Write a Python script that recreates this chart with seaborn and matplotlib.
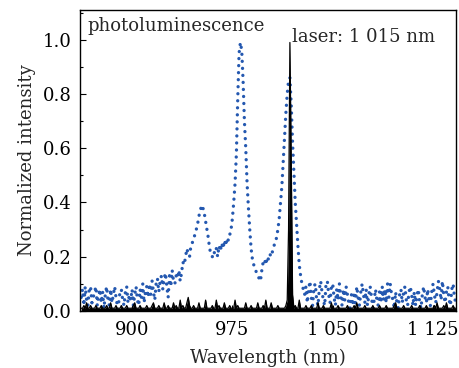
import numpy as np
import pandas as pd
import matplotlib
matplotlib.use('Agg')
import matplotlib.pyplot as plt
import seaborn as sns
from matplotlib.ticker import FixedLocator, MultipleLocator

# --- data (1 nm steps starting at 862 nm) ---
START_NM = 862

pl_intensity = [
    0.05, 0.08, 0.02, 0.09, 0.04, 0.02, 0.08, 0.09, 0.03, 0.05,
    0.07, 0.09, 0.02, 0.06, 0.08, 0.03, 0.07, 0.01, 0.06, 0.09,
    0.04, 0.02, 0.08, 0.03, 0.06, 0.09, 0.05, 0.02, 0.03, 0.07,
    0.08, 0.04, 0.02, 0.07, 0.09, 0.03, 0.06, 0.04, 0.08, 0.02,
    0.06, 0.09, 0.04, 0.02, 0.08, 0.05, 0.10, 0.03, 0.07, 0.09,
    0.05, 0.10, 0.06, 0.11, 0.07, 0.04, 0.10, 0.12, 0.07, 0.11,
    0.13, 0.08, 0.12, 0.14, 0.09, 0.05, 0.13, 0.09, 0.15, 0.11,
    0.10, 0.13, 0.12, 0.15, 0.11, 0.14, 0.18, 0.17, 0.20, 0.23,
    0.21, 0.20, 0.24, 0.25, 0.27, 0.28, 0.30, 0.32, 0.35, 0.37,
    0.39, 0.38, 0.36, 0.33, 0.30, 0.27, 0.23, 0.21, 0.20, 0.22,
    0.21, 0.23, 0.20, 0.24, 0.22, 0.25, 0.23, 0.26, 0.24, 0.27,
    0.26, 0.28, 0.30, 0.34, 0.40, 0.47, 0.58, 0.78, 0.95, 0.99,
    0.96, 0.85, 0.70, 0.60, 0.47, 0.38, 0.30, 0.23, 0.19, 0.17,
    0.16, 0.14, 0.13, 0.12, 0.11, 0.15, 0.18, 0.19, 0.17, 0.20,
    0.19, 0.21, 0.20, 0.22, 0.24, 0.25, 0.27, 0.30, 0.34, 0.40,
    0.46, 0.55, 0.64, 0.73, 0.80, 0.85, 0.86, 0.76, 0.62, 0.51,
    0.40, 0.32, 0.24, 0.17, 0.13, 0.10, 0.08, 0.06, 0.09, 0.03,
    0.08, 0.11, 0.05, 0.02, 0.09, 0.10, 0.04, 0.02, 0.08, 0.11,
    0.07, 0.04, 0.02, 0.10, 0.11, 0.06, 0.03, 0.09, 0.10, 0.05,
    0.02, 0.08, 0.04, 0.10, 0.05, 0.02, 0.08, 0.04, 0.09, 0.06,
    0.03, 0.01, 0.06, 0.02, 0.07, 0.03, 0.09, 0.05, 0.02, 0.07,
    0.10, 0.06, 0.03, 0.08, 0.02, 0.06, 0.09, 0.05, 0.01, 0.04,
    0.08, 0.04, 0.02, 0.07, 0.03, 0.09, 0.04, 0.08, 0.03, 0.10,
    0.05, 0.10, 0.06, 0.04, 0.01, 0.07, 0.03, 0.01, 0.06, 0.08,
    0.03, 0.07, 0.09, 0.04, 0.02, 0.07, 0.09, 0.06, 0.02, 0.07,
    0.02, 0.06, 0.08, 0.03, 0.01, 0.06, 0.09, 0.05, 0.03, 0.08,
    0.04, 0.02, 0.07, 0.10, 0.06, 0.03, 0.07, 0.11, 0.08, 0.04,
    0.11, 0.06, 0.03, 0.07, 0.09, 0.04, 0.02, 0.08, 0.10, 0.05,
    0.03,
]

laser_intensity = [
    0.01, 0.01, 0.02, 0.01, 0.03, 0.01, 0.01, 0.02, 0.01, 0.01,
    0.01, 0.02, 0.01, 0.01, 0.01, 0.02, 0.01, 0.01, 0.01, 0.02,
    0.01, 0.01, 0.03, 0.01, 0.01, 0.01, 0.02, 0.01, 0.01, 0.01,
    0.02, 0.01, 0.01, 0.01, 0.02, 0.01, 0.01, 0.01, 0.01, 0.02,
    0.03, 0.01, 0.01, 0.01, 0.02, 0.01, 0.01, 0.01, 0.01, 0.02,
    0.01, 0.01, 0.01, 0.02, 0.03, 0.01, 0.01, 0.01, 0.02, 0.01,
    0.01, 0.01, 0.03, 0.01, 0.01, 0.02, 0.01, 0.01, 0.01, 0.03,
    0.01, 0.02, 0.01, 0.01, 0.04, 0.01, 0.02, 0.01, 0.01, 0.03,
    0.05, 0.02, 0.01, 0.01, 0.02, 0.01, 0.01, 0.01, 0.03, 0.01,
    0.01, 0.01, 0.01, 0.04, 0.01, 0.01, 0.01, 0.01, 0.02, 0.01,
    0.01, 0.04, 0.01, 0.02, 0.01, 0.01, 0.01, 0.03, 0.01, 0.01,
    0.01, 0.02, 0.01, 0.01, 0.01, 0.04, 0.01, 0.02, 0.01, 0.01,
    0.01, 0.01, 0.01, 0.03, 0.01, 0.01, 0.01, 0.02, 0.01, 0.01,
    0.01, 0.01, 0.03, 0.01, 0.01, 0.01, 0.02, 0.01, 0.04, 0.01,
    0.01, 0.01, 0.03, 0.01, 0.01, 0.01, 0.01, 0.02, 0.01, 0.01,
    0.01, 0.01, 0.01, 0.02, 0.04, 0.30, 0.99, 0.55, 0.06, 0.01,
    0.02, 0.01, 0.01, 0.04, 0.01, 0.01, 0.01, 0.01, 0.02, 0.01,
    0.01, 0.01, 0.02, 0.01, 0.01, 0.01, 0.01, 0.03, 0.01, 0.01,
    0.01, 0.02, 0.01, 0.01, 0.01, 0.01, 0.01, 0.03, 0.01, 0.01,
    0.01, 0.01, 0.02, 0.01, 0.01, 0.01, 0.01, 0.01, 0.01, 0.02,
    0.01, 0.01, 0.01, 0.01, 0.02, 0.01, 0.03, 0.01, 0.01, 0.01,
    0.01, 0.01, 0.02, 0.01, 0.01, 0.01, 0.01, 0.01, 0.02, 0.01,
    0.01, 0.01, 0.01, 0.02, 0.01, 0.01, 0.01, 0.01, 0.02, 0.01,
    0.01, 0.01, 0.01, 0.01, 0.02, 0.03, 0.01, 0.01, 0.01, 0.01,
    0.01, 0.02, 0.01, 0.01, 0.01, 0.01, 0.01, 0.02, 0.01, 0.01,
    0.01, 0.01, 0.01, 0.02, 0.01, 0.01, 0.01, 0.01, 0.02, 0.01,
    0.01, 0.01, 0.01, 0.01, 0.02, 0.01, 0.03, 0.01, 0.01, 0.01,
    0.01, 0.02, 0.01, 0.03, 0.01, 0.01, 0.01, 0.01, 0.02, 0.01,
    0.01,
]

x_ticks = [900, 975, 1050, 1125]
x_tick_labels = ['900', '975', '1 050', '1 125']

pl_df = pd.DataFrame({'wavelength': START_NM + np.arange(len(pl_intensity)),
                      'intensity': pl_intensity})
laser_df = pd.DataFrame({'wavelength': START_NM + np.arange(len(laser_intensity)),
                         'intensity': laser_intensity})

# --- style ---
sns.set_theme(style='ticks')
plt.rcParams['font.family'] = ['DejaVu Serif']
plt.rcParams['mathtext.fontset'] = 'dejavuserif'
FS = 13

fig = plt.figure(figsize=(4.59, 3.68), dpi=100)
ax = fig.add_axes([0.174, 0.155, 0.819, 0.818])

# photoluminescence, dotted blue
sns.lineplot(data=pl_df, x='wavelength', y='intensity', ax=ax,
             color='#2458b0', linewidth=2.4, linestyle=(0, (0.01, 2.1)),
             dash_capstyle='round', zorder=2)

# laser line, black filled
ax.fill_between(laser_df['wavelength'], 0, laser_df['intensity'],
                color='black', linewidth=0, zorder=3)
sns.lineplot(data=laser_df, x='wavelength', y='intensity', ax=ax,
             color='black', linewidth=0.9, zorder=3)

ax.set_xlim(861, 1142)
ax.set_ylim(0, 1.11)
ax.xaxis.set_major_locator(FixedLocator(x_ticks))
ax.set_xticklabels(x_tick_labels)
ax.xaxis.set_minor_locator(MultipleLocator(37.5))
ax.yaxis.set_major_locator(MultipleLocator(0.2))
ax.yaxis.set_minor_locator(MultipleLocator(0.1))
ax.set_yticklabels([f'{v:.1f}' for v in ax.get_yticks()])

ax.tick_params(which='both', direction='in', labelsize=FS, colors='black')
ax.tick_params(which='major', length=4, width=0.8)
ax.tick_params(axis='x', which='major', pad=7)
ax.tick_params(axis='y', which='major', pad=6)
ax.tick_params(which='minor', length=2.5, width=0.8)
for sp in ax.spines.values():
    sp.set_visible(True)
    sp.set_linewidth(1.0)
    sp.set_color('black')

ax.set_xlabel('Wavelength (nm)', fontsize=FS, labelpad=7)
ax.set_ylabel('Normalized intensity', fontsize=FS, labelpad=5)

ax.text(0.021, 0.975, 'photoluminescence', transform=ax.transAxes,
        ha='left', va='top', fontsize=FS)
ax.text(0.563, 0.94, 'laser: 1 015 nm', transform=ax.transAxes,
        ha='left', va='top', fontsize=FS)

fig.savefig('out.png', dpi=100)
